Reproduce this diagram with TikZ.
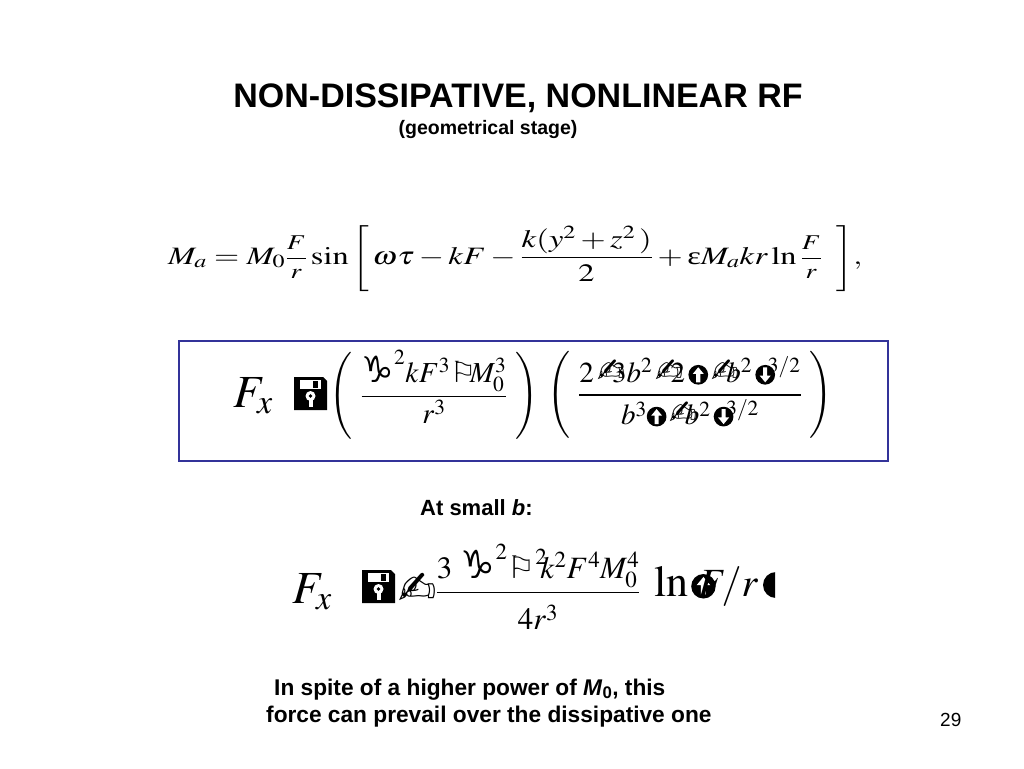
\documentclass[tikz,border=0pt]{standalone}
\usepackage{amsmath}
\usepackage{graphicx}
\usepackage{mathptmx}
\usepackage[no-math]{fontspec}
\setmainfont{Liberation Sans}
\newfontfamily\dv{DejaVu Sans}
\newfontfamily\tnr{Liberation Serif}
\definecolor{boxc}{RGB}{51,51,153}
\newcommand\hand{\mbox{\scalebox{1.15}{\dv ✍}}}
\newcommand\capri{\mbox{\scalebox{1.25}{\dv ♑}}}
\newcommand\wflag{\mbox{\dv ⚐}}
\newcommand\upc{\tikz[x=1em,y=1em,baseline=-0.27em]{\fill[black] (0,0) circle (0.34);
  \fill[white] (0,0.26)--(0.19,0.03)--(0.07,0.03)--(0.07,-0.26)--(-0.07,-0.26)--(-0.07,0.03)--(-0.19,0.03)--cycle;}}
\newcommand\dnc{\tikz[x=1em,y=1em,baseline=-0.27em]{\fill[black] (0,0) circle (0.34);
  \fill[white] (0,-0.26)--(0.19,-0.03)--(0.07,-0.03)--(0.07,0.26)--(-0.07,0.26)--(-0.07,-0.03)--(-0.19,-0.03)--cycle;}}
\newcommand\bigbr[1]{\mbox{\fontsize{22}{26}\selectfont$#1$}}
\newcommand\smfr[2]{\mbox{\fontsize{21}{24}\selectfont$\displaystyle\frac{#1}{#2}$}}
\tikzset{
  floppy/.pic={
    \fill[black] (0,0) -- (29,0) -- (33,4) -- (33,33) -- (0,33) -- cycle;
    \fill[white] (6,3) rectangle (27,12);
    \fill[black] (19,4) rectangle (24,11);
    \fill[white] (16.5,19) circle (5);
    \fill[white] (14.5,21) rectangle (18.5,30);
    \fill[black] (16.5,19) circle (1.8);
  },
  title/.style={font=\fontsize{34}{40}\selectfont\bfseries, anchor=base},
  sans/.style={font=\fontsize{22}{26}\selectfont\bfseries, anchor=base west, inner sep=0},
  note/.style={font=\fontsize{22.7}{27}\selectfont\bfseries, anchor=base west, inner sep=0},
  bigmath/.style={font=\fontsize{46}{54}\selectfont, anchor=base west},
  midmath/.style={font=\fontsize{29}{35}\selectfont},
}
\begin{document}
\begin{tikzpicture}[x=1pt,y=-1pt]
\useasboundingbox[fill=white] (0,0) rectangle (1024,768);

\node[title] (title) at (518,107) {NON-DISSIPATIVE, NONLINEAR RF};
\node[font=\fontsize{19.5}{23}\selectfont\bfseries, anchor=base] (sub) at (488,134) {(geometrical stage)};

% equation 1
\node[font=\fontsize{25}{30}\selectfont, anchor=base west, inner sep=0] (eq1) at (168,264)
  {\resizebox{694pt}{\height}{$M_a = M_0\smfr{F}{r}\sin\bigbr{\Biggl[}\,\omega\tau - kF - \dfrac{k(y^2 + z^2\,)}{2} + \mbox{\tnr ε}M_a kr\ln\smfr{F}{r}\;\;\bigbr{\Biggr]},$}};

% equation 2 in its frame
\draw[boxc, line width=2pt] (179,341) rectangle (888,461);
\node[bigmath] (fx2) at (230,407) {$F_x$};
\pic at (294,377) {floppy};
\node[midmath] (f1) at (434,395) {$\Biggl(\ \dfrac{\capri^2kF^3\wflag\!\!M_0^3}{r^3}\ \Biggr)$};
\node[midmath] (f2) at (690,395) {$\Biggl(\ \dfrac{2\,\hand\!\!\!\!3b^2\,\hand\!\!\!\!2\,\upc\,\hand\!\!\!\!b^2\,\dnc^{\!\!\!3/2}}{b^3\upc\,\hand\!\!\!\!b^2\,\dnc^{\!\!\!3/2}}\ \Biggr)$};

\node[sans] (small) at (420,515) {At small \textit{b}:};

% equation 3
\node[bigmath] (fx3) at (289,603) {$F_x$};
\pic at (362,570) {floppy};
\node[font=\fontsize{46}{50}\selectfont\dv, anchor=base west, inner sep=0] (hand3) at (398,604) {✍};
\node[font=\fontsize{31}{36}\selectfont, anchor=base, inner sep=0] (f3) at (538,600)
  {$\dfrac{3\ \capri^2\wflag^2\!\!k^2F^4M_0^4}{\rule{0pt}{1.05em}4r^3}$};
\node[font=\fontsize{44}{50}\selectfont, anchor=base west, inner sep=0] (ln3) at (654,596) {$\mathrm{ln}$};
\node[font=\fontsize{36}{40}\selectfont, anchor=base west, inner sep=0] (up3) at (691,596) {\upc};
\node[font=\fontsize{40}{46}\selectfont, anchor=base west, inner sep=0] (fr3) at (698,596) {$F\!/r$};
\begin{scope}
  \clip (755,570) rectangle (775,615);
  \fill (776,585) circle (13);
\end{scope}

\node[note] (n1) at (274,695) {In spite of a higher power of \textit{M}\textsubscript{0}, this};
\node[note] (n2) at (266,722) {force can prevail over the dissipative one};
\node[font=\fontsize{19}{22}\selectfont, anchor=base west, inner sep=0] (pg) at (940,726) {29};
\end{tikzpicture}
\end{document}
